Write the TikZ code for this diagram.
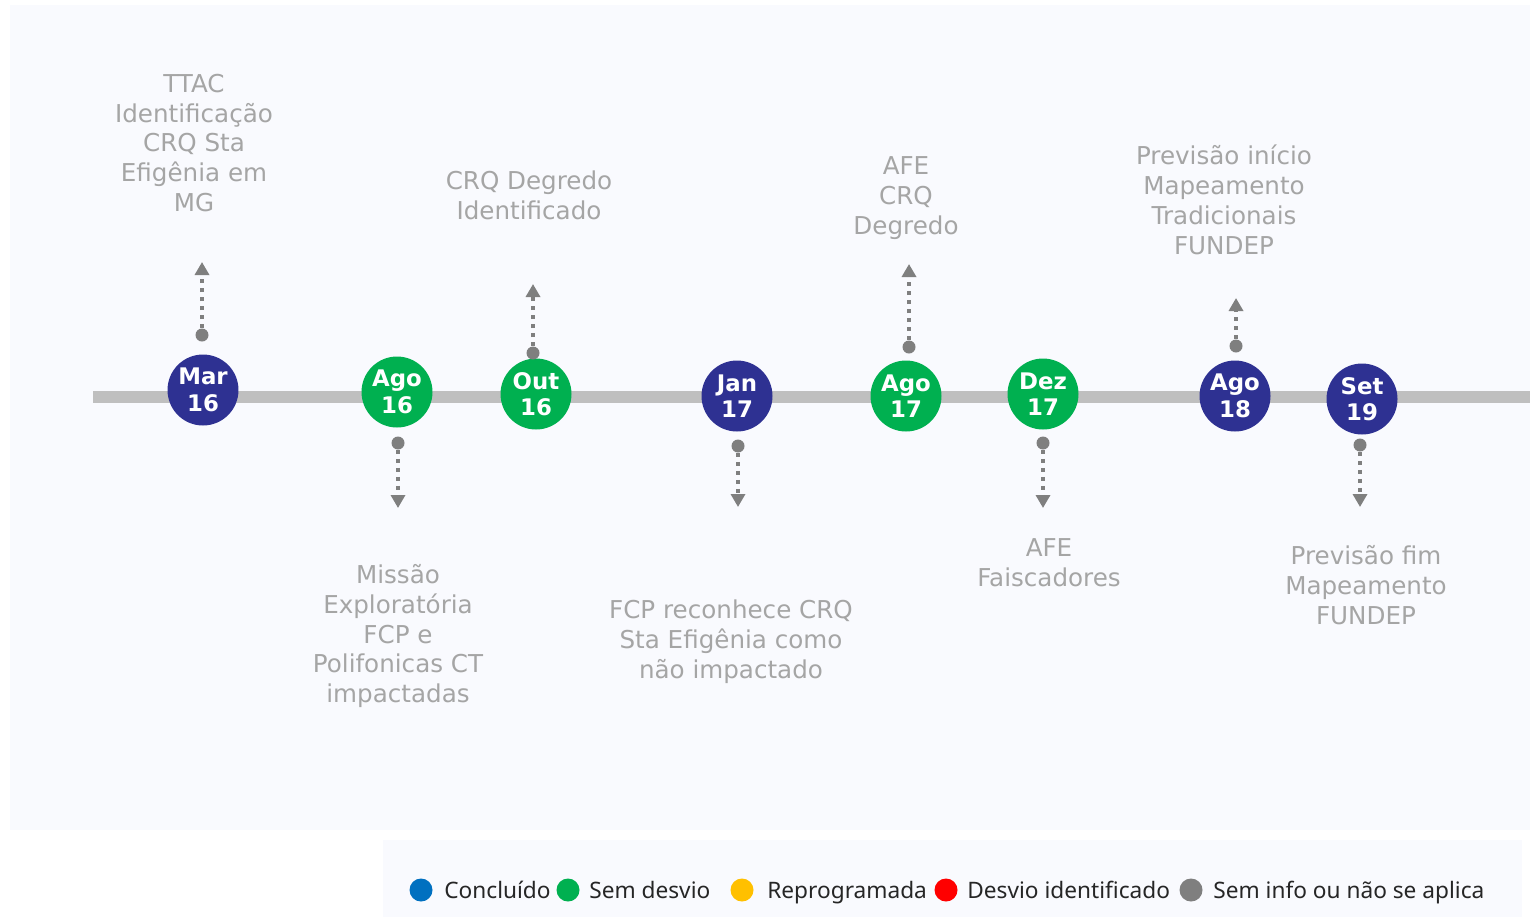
\documentclass[tikz,border=0pt]{standalone}
\usepackage{fontspec}
\setmainfont{DejaVu Sans}
\newfontfamily\legendfont{Noto Sans}
\usetikzlibrary{arrows.meta}
\definecolor{navy}{RGB}{46,49,146}
\definecolor{ok}{RGB}{0,176,80}
\definecolor{rail}{RGB}{191,191,191}
\definecolor{notegray}{RGB}{165,165,165}
\definecolor{pingray}{RGB}{127,127,127}
\definecolor{panel}{RGB}{249,250,254}
\definecolor{legendink}{RGB}{38,38,38}
\definecolor{keyblue}{RGB}{0,112,192}
\definecolor{keyyellow}{RGB}{255,192,0}
\definecolor{keyred}{RGB}{255,0,0}
\tikzset{
  event/.style={circle, minimum size=1.42cm, inner sep=0, text=white,
    align=center, font=\fontsize{13}{15}\selectfont\bfseries},
  pindot/.style={circle, fill=pingray, minimum size=0.26cm, inner sep=0},
  lead/.style={draw=pingray, line width=0.08cm,
    dash pattern=on 0.08cm off 0.1cm,
    -{Triangle[width=0.28cm,length=0.26cm]}},
  note/.style={align=center, text=notegray, inner sep=0,
    font=\fontsize{14}{17}\selectfont},
  keydot/.style={circle, minimum size=0.46cm, inner sep=0},
  keytext/.style={anchor=base west, inner sep=0, text=legendink,
    font=\legendfont\fontsize{12.9}{16}\selectfont},
}

\begin{document}
\begin{tikzpicture}[x=0.02cm, y=-0.02cm]
\useasboundingbox (0,0) rectangle (1530,917);
% panels behind the chart and the legend
\fill[panel] (10,5) rectangle (1530,830);
\fill[panel] (383,840) rectangle (1522,917);

% time line
\coordinate (start) at (93,397);
\coordinate (end) at (1530,397);
\draw[draw=rail, line width=0.24cm] (start) -- (end);

% milestones
\node[event, fill=navy] (mar16) at (203,390) {Mar\\16};
\node[event, fill=ok]   (ago16) at (397,392) {Ago\\16};
\node[event, fill=ok]   (out16) at (536,394) {Out\\16};
\node[event, fill=navy] (jan17) at (737,396) {Jan\\17};
\node[event, fill=ok]   (ago17) at (906,396) {Ago\\17};
\node[event, fill=ok]   (dez17) at (1043,394) {Dez\\17};
\node[event, fill=navy] (ago18) at (1235,396) {Ago\\18};
\node[event, fill=navy] (set19) at (1362,399) {Set\\19};

% pins above the line
\node[pindot] (pmar16) at (202,335) {};
\coordinate (tmar16) at (202,262);
\draw[lead] (pmar16) -- (tmar16);
\node[pindot] (pout16) at (533,353) {};
\coordinate (tout16) at (533,284);
\draw[lead] (pout16) -- (tout16);
\node[pindot] (pago17) at (909,347) {};
\coordinate (tago17) at (909,264);
\draw[lead] (pago17) -- (tago17);
\node[pindot] (pago18) at (1236,346) {};
\coordinate (tago18) at (1236,298);
\draw[lead] (pago18) -- (tago18);

% pins below the line
\node[pindot] (pago16) at (398,443) {};
\coordinate (tago16) at (398,508);
\draw[lead] (pago16) -- (tago16);
\node[pindot] (pjan17) at (738,446) {};
\coordinate (tjan17) at (738,507);
\draw[lead] (pjan17) -- (tjan17);
\node[pindot] (pdez17) at (1043,443) {};
\coordinate (tdez17) at (1043,508);
\draw[lead] (pdez17) -- (tdez17);
\node[pindot] (pset19) at (1360,445) {};
\coordinate (tset19) at (1360,507);
\draw[lead] (pset19) -- (tset19);

% texts
\node[note] (nmar16) at (194,143)
  {TTAC\\Identificação\\CRQ Sta\\Efigênia em\\MG};
\node[note] (nout16) at (529,195) {CRQ Degredo\\Identificado};
\node[note] (nago17) at (906,198) {AFE\\CRQ\\Degredo};
\node[note] (nago18) at (1224,200)
  {Previsão início\\Mapeamento\\Tradicionais\\FUNDEP};
\node[note] (nago16) at (398,636)
  {Missão\\Exploratória\\FCP e\\Polifonicas CT\\impactadas};
\node[note] (njan17) at (731,642)
  {FCP reconhece CRQ\\Sta Efigênia como\\não impactado};
\node[note] (ndez17) at (1049,563) {AFE\\Faiscadores};
\node[note] (nset19) at (1366,585) {Previsão fim\\Mapeamento\\FUNDEP};

% legend
\node[keydot, fill=keyblue] (kdone) at (421,890) {};
\node[keytext] (ldone) at (444,898) {Concluído};
\node[keydot, fill=ok] (kok) at (568,890) {};
\node[keytext] (lok) at (589,898) {Sem desvio};
\node[keydot, fill=keyyellow] (kmoved) at (742,890) {};
\node[keytext] (lmoved) at (767,898) {Reprogramada};
\node[keydot, fill=keyred] (klate) at (946,890) {};
\node[keytext] (llate) at (967,898) {Desvio identificado};
\node[keydot, fill=pingray] (knone) at (1191,890) {};
\node[keytext] (lnone) at (1213,898) {Sem info ou não se aplica};
\end{tikzpicture}
\end{document}
